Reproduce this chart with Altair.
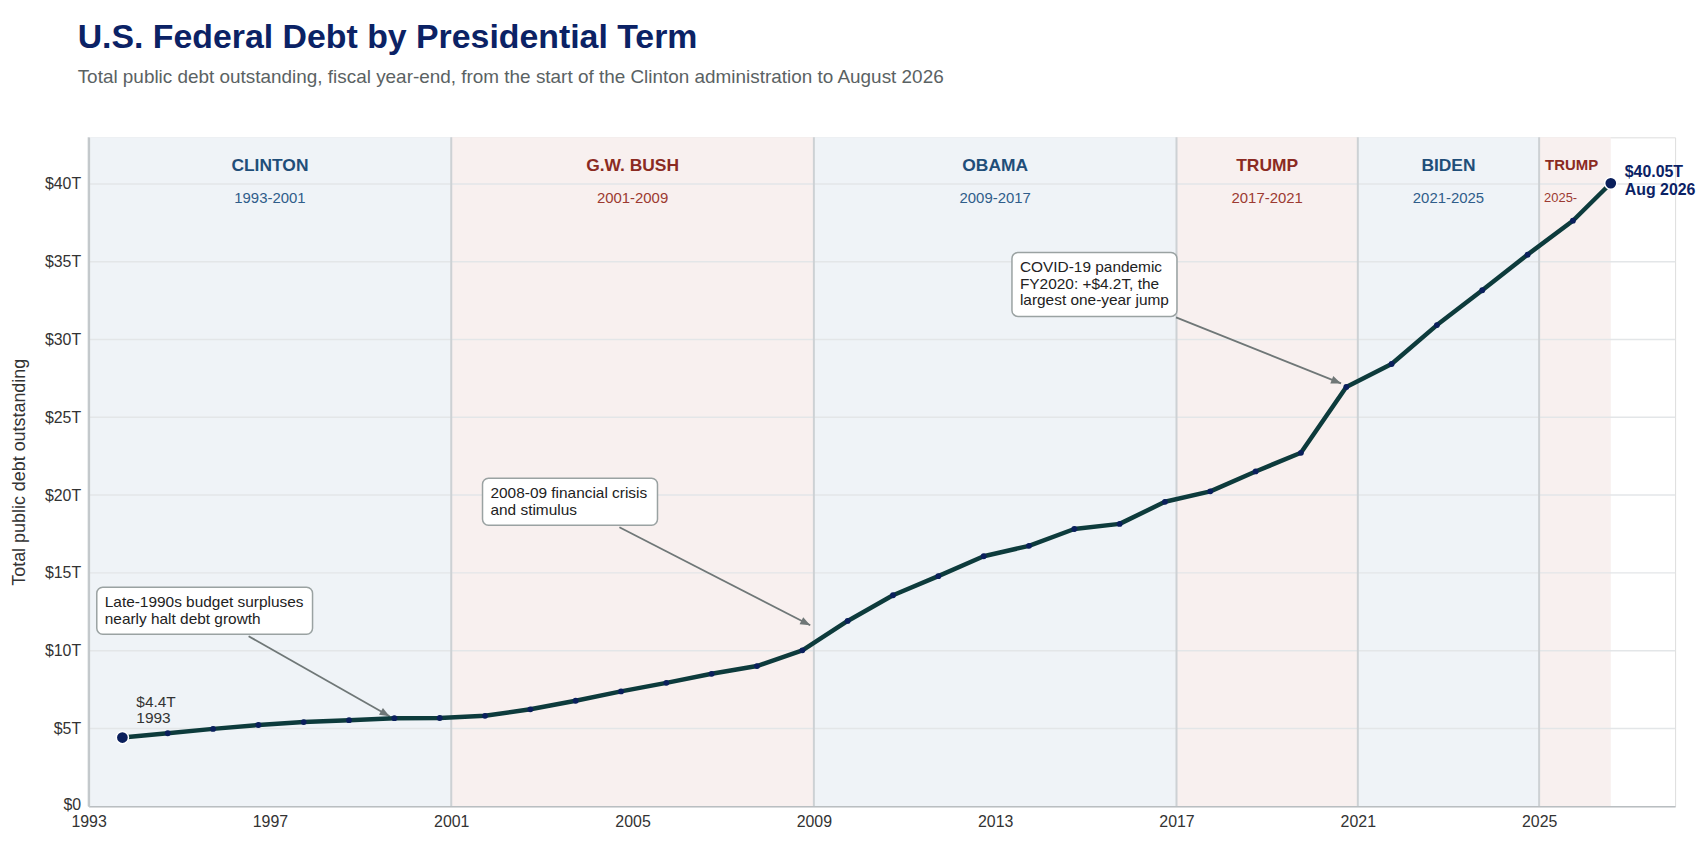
import math
import altair as alt
import pandas as pd

FONT = "Liberation Sans"

# ---------------- data ----------------
fiscal_years = [1993, 1994, 1995, 1996, 1997, 1998, 1999, 2000, 2001, 2002, 2003,
                2004, 2005, 2006, 2007, 2008, 2009, 2010, 2011, 2012, 2013, 2014,
                2015, 2016, 2017, 2018, 2019, 2020, 2021, 2022, 2023, 2024, 2025]
debt_trillions = [4.41, 4.69, 4.97, 5.22, 5.41, 5.53, 5.66, 5.67, 5.81, 6.23, 6.78,
                  7.38, 7.93, 8.51, 9.01, 10.02, 11.91, 13.56, 14.79, 16.07, 16.74, 17.82,
                  18.15, 19.57, 20.24, 21.52, 22.72, 26.95, 28.43, 30.93, 33.17, 35.46, 37.64]
latest_date = "2026-08-01"
latest_label = "Aug 2026"
latest_debt = 40.05

term_names = ["CLINTON", "G.W. BUSH", "OBAMA", "TRUMP", "BIDEN", "TRUMP"]
term_years = ["1993-2001", "2001-2009", "2009-2017", "2017-2021", "2021-2025", "2025-"]
term_start = [1993, 2001, 2009, 2017, 2021, 2025]
term_party = ["D", "R", "D", "R", "D", "R"]

x_ticks = [1993, 1997, 2001, 2005, 2009, 2013, 2017, 2021, 2025]
y_ticks = [0, 5, 10, 15, 20, 25, 30, 35, 40]

ann_text = ["Late-1990s budget surpluses\nnearly halt debt growth",
            "2008-09 financial crisis\nand stimulus",
            "COVID-19 pandemic\nFY2020: +$4.2T, the\nlargest one-year jump"]
ann_box_left = [1993.18, 2001.69, 2013.37]
ann_box_right = [1997.94, 2005.55, 2017.01]
ann_box_top = [14.07, 21.08, 35.60]
ann_box_bottom = [11.05, 18.06, 31.49]
ann_arrow_from_x = [1996.53, 2004.71, 2016.99]
ann_arrow_from_y = [10.93, 17.93, 31.43]
ann_arrow_to_x = [1999.64, 2008.92, 2020.63]
ann_arrow_to_y = [5.78, 11.63, 27.18]

# ---------------- layout ----------------
W, H = 1594, 672
X_DOM = [1993, 2028]
Y_DOM = [0, 43]

NAVY = "#0b2265"
LINE = "#0d3b3c"
DOT = "#0a1f5c"
ARROW = "#6f7777"
BLUE_BG, RED_BG = "#eff3f7", "#f8f0ef"
BLUE_TX, RED_TX = "#1f4e79", "#8b2a22"
BLUE_TX2, RED_TX2 = "#2f5d8a", "#9c3a31"


def dec_year(s):
    t = pd.Timestamp(s)
    n = 366 if t.is_leap_year else 365
    return t.year + (t.dayofyear - 1) / n


series = pd.DataFrame({
    "x": [dec_year(f"{y}-09-30") for y in fiscal_years] + [dec_year(latest_date)],
    "debt": debt_trillions + [latest_debt],
})
latest_x = series["x"].iloc[-1]

terms = pd.DataFrame({
    "name": term_names,
    "years": term_years,
    "start": term_start,
    "end": term_start[1:] + [latest_x],
    "party": term_party,
})

px_x = W / (X_DOM[1] - X_DOM[0])
px_y = H / (Y_DOM[1] - Y_DOM[0])
angles = []
for sx, sy, tx, ty in zip(ann_arrow_from_x, ann_arrow_from_y, ann_arrow_to_x, ann_arrow_to_y):
    dx = (tx - sx) * px_x
    dy = -(ty - sy) * px_y
    angles.append(math.degrees(math.atan2(dy, dx)) + 90)

ann = pd.DataFrame({
    "text": ann_text,
    "left": ann_box_left, "right": ann_box_right,
    "top": ann_box_top, "bottom": ann_box_bottom,
    "sx": ann_arrow_from_x, "sy": ann_arrow_from_y,
    "tx": ann_arrow_to_x, "ty": ann_arrow_to_y,
    "angle": angles,
})

ends = pd.DataFrame({
    "x": [series["x"].iloc[0], latest_x],
    "debt": [debt_trillions[0], latest_debt],
    "label": [f"${debt_trillions[0]:.1f}T\n{fiscal_years[0]}",
              f"${latest_debt:.2f}T\n{latest_label}"],
    "kind": ["start", "end"],
})

xscale = alt.Scale(domain=X_DOM, nice=False, zero=False)
yscale = alt.Scale(domain=Y_DOM, nice=False, zero=False)

xaxis = alt.Axis(values=x_ticks, format="d", labelFlush=False, grid=False, ticks=False,
                 domainColor="#b9bec1", domainWidth=1.5, labelFontSize=16,
                 labelColor="#333333", labelFont=FONT, labelPadding=7, zindex=1)
yaxis = alt.Axis(values=y_ticks, labelExpr="datum.value == 0 ? '$0' : '$' + datum.value + 'T'",
                 labelFlush=False, grid=False, ticks=False, domainColor="#c3c8cb", domainWidth=2,
                 labelFontSize=16, labelColor="#333333", labelFont=FONT, labelPadding=8,
                 labelOffset={"condition": {"test": "datum.value == 0", "value": -2}, "value": 0},
                 title="Total public debt outstanding", titleFontSize=18, titleFont=FONT,
                 titleFontWeight="normal", titleColor="#333333", titlePadding=16, zindex=1)

party_bg = alt.condition(alt.datum.party == "R", alt.value(RED_BG), alt.value(BLUE_BG))
party_tx = alt.condition(alt.datum.party == "R", alt.value(RED_TX), alt.value(BLUE_TX))
party_tx2 = alt.condition(alt.datum.party == "R", alt.value(RED_TX2), alt.value(BLUE_TX2))

bands = alt.Chart(terms).mark_rect().encode(
    x=alt.X("start:Q", scale=xscale, axis=xaxis, title=None),
    x2="end:Q",
    y=alt.value(0), y2=alt.value(H),
    color=party_bg,
)

grid = alt.Chart(pd.DataFrame({"v": y_ticks[1:]})).mark_rule(
    color="#e3e6e8", strokeWidth=1.5
).encode(y=alt.Y("v:Q", scale=yscale, axis=yaxis))

dividers = alt.Chart(terms).mark_rule(color="#cdd1d4", strokeWidth=2).encode(
    x=alt.X("start:Q", scale=xscale)
)

wide = alt.Chart(terms).transform_filter("datum.end - datum.start > 2").transform_calculate(
    mid="(datum.start + datum.end) / 2")
names_c = wide.mark_text(font=FONT, fontSize=17.5, fontWeight="bold", baseline="middle",
                         align="center").encode(
    x=alt.X("mid:Q", scale=xscale), y=alt.value(29), text="name:N", color=party_tx)
years_c = wide.mark_text(font=FONT, fontSize=15, baseline="middle", align="center").encode(
    x=alt.X("mid:Q", scale=xscale), y=alt.value(61), text="years:N", color=party_tx2)

narrow = alt.Chart(terms).transform_filter("datum.end - datum.start <= 2")
names_l = narrow.mark_text(font=FONT, fontSize=15, fontWeight="bold", baseline="middle",
                           align="left", dx=6).encode(
    x=alt.X("start:Q", scale=xscale), y=alt.value(28), text="name:N", color=party_tx)
years_l = narrow.mark_text(font=FONT, fontSize=13, baseline="middle", align="left", dx=5).encode(
    x=alt.X("start:Q", scale=xscale), y=alt.value(61), text="years:N", color=party_tx2)

arrows = alt.Chart(ann).mark_rule(color=ARROW, strokeWidth=1.8).encode(
    x=alt.X("sx:Q", scale=xscale), y=alt.Y("sy:Q", scale=yscale), x2="tx:Q", y2="ty:Q")
heads = alt.Chart(ann).mark_point(shape="M0,0 L-0.8,2 L0.8,2 Z", filled=True, size=100,
                                  color=ARROW, opacity=1).encode(
    x=alt.X("tx:Q", scale=xscale), y=alt.Y("ty:Q", scale=yscale),
    angle=alt.Angle("angle:Q", scale=None))
boxes = alt.Chart(ann).mark_rect(fill="white", stroke="#9aa2a2", strokeWidth=1.5,
                                 cornerRadius=6).encode(
    x=alt.X("left:Q", scale=xscale), x2="right:Q",
    y=alt.Y("top:Q", scale=yscale), y2="bottom:Q")
box_text = alt.Chart(ann).mark_text(font=FONT, fontSize=15.5, align="left", baseline="alphabetic",
                                    dx=8, dy=20, lineHeight=16.5, lineBreak="\n",
                                    color="#222222").encode(
    x=alt.X("left:Q", scale=xscale), y=alt.Y("top:Q", scale=yscale), text="text:N")

line = alt.Chart(series).mark_line(color=LINE, strokeWidth=4.5, strokeJoin="round",
                                   strokeCap="round").encode(
    x=alt.X("x:Q", scale=xscale), y=alt.Y("debt:Q", scale=yscale))
dots = alt.Chart(series).mark_circle(color=DOT, size=34, opacity=1).encode(
    x=alt.X("x:Q", scale=xscale), y=alt.Y("debt:Q", scale=yscale))
end_dots = alt.Chart(ends).mark_circle(color=DOT, size=150, opacity=1, stroke="white",
                                       strokeWidth=1.5).encode(
    x=alt.X("x:Q", scale=xscale), y=alt.Y("debt:Q", scale=yscale))
start_label = alt.Chart(ends).transform_filter("datum.kind == 'start'").mark_text(
    font=FONT, fontSize=15.5, align="left", baseline="alphabetic", dx=14, dy=-31,
    lineHeight=16.5, lineBreak="\n", color="#333333").encode(
    x=alt.X("x:Q", scale=xscale), y=alt.Y("debt:Q", scale=yscale), text="label:N")
end_label = alt.Chart(ends).transform_filter("datum.kind == 'end'").mark_text(
    font=FONT, fontSize=16, fontWeight="bold", align="left", baseline="alphabetic", dx=14,
    dy=-6, lineHeight=18, lineBreak="\n", color=NAVY).encode(
    x=alt.X("x:Q", scale=xscale), y=alt.Y("debt:Q", scale=yscale), text="label:N")

chart = alt.layer(
    bands, grid, dividers, names_c, years_c, names_l, years_l,
    arrows, heads, boxes, box_text,
    line, dots, end_dots, start_label, end_label,
).properties(
    width=W, height=H,
    title=alt.TitleParams(
        text="U.S. Federal Debt by Presidential Term",
        subtitle="Total public debt outstanding, fiscal year-end, from the start of the Clinton administration to August 2026",
        anchor="start", frame="group", dx=-11, offset=50,
        font=FONT, fontSize=34, fontWeight="bold", color=NAVY,
        subtitleFont=FONT, subtitleFontSize=19, subtitleColor="#5a6263", subtitlePadding=13,
    ),
    autosize=alt.AutoSizeParams(type="none"),
    padding={"left": 81, "top": 128, "right": 23, "bottom": 30},
).configure_view(strokeWidth=0, stroke="transparent").configure(font=FONT, background="white")

chart.save("out.html", embed_options={"renderer": "svg", "actions": False})
